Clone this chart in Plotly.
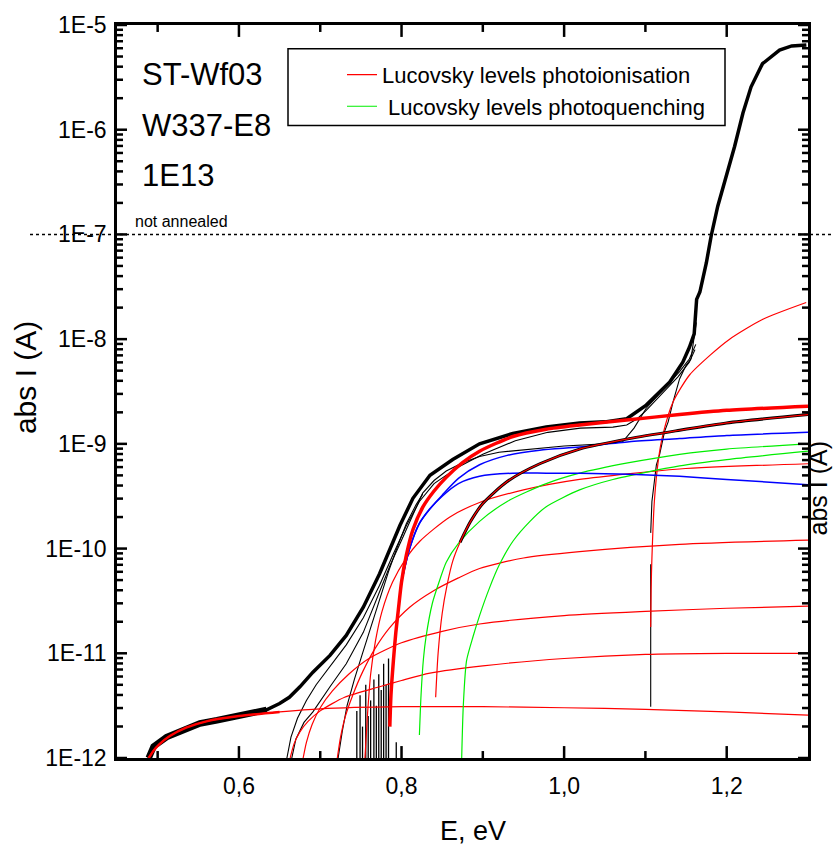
import math
import plotly.graph_objects as go

FONT = "Liberation Sans, Arial, sans-serif"

# ---------------- data (E in eV, current as log10 of A) ----------------
# main measured curve (thick black)
main_E = [0.489, 0.495, 0.511, 0.532, 0.552, 0.573, 0.601, 0.634, 0.650, 0.662, 0.675, 0.691,
          0.712, 0.732, 0.753, 0.773, 0.786, 0.798, 0.814, 0.835, 0.863, 0.896, 0.937, 0.978,
          1.019, 1.050, 1.077, 1.101, 1.130, 1.146, 1.154, 1.160, 1.163, 1.167, 1.175, 1.181,
          1.189, 1.1995, 1.2097, 1.220, 1.230, 1.244, 1.265, 1.280, 1.298]
main_L = [-12.00, -11.89, -11.80, -11.73, -11.67, -11.64, -11.59, -11.54, -11.48, -11.42, -11.32, -11.18,
          -11.02, -10.83, -10.56, -10.24, -10.00, -9.78, -9.52, -9.30, -9.15, -9.00, -8.90, -8.84,
          -8.80, -8.79, -8.76, -8.63, -8.41, -8.22, -8.08, -7.95, -7.62, -7.55, -7.27, -7.01,
          -6.73, -6.44, -6.16, -5.84, -5.59, -5.37, -5.24, -5.20, -5.19]

# thin measured curves
t1_E = [0.659, 0.664, 0.672, 0.683, 0.695, 0.712, 0.732, 0.753, 0.773, 0.790, 0.806, 0.822, 0.840,
        0.870, 0.900, 0.940, 0.980, 1.020, 1.060, 1.077, 1.090, 1.101, 1.120, 1.140, 1.154, 1.161]
t1_L = [-12.00, -11.80, -11.62, -11.45, -11.30, -11.12, -10.92, -10.66, -10.35, -10.05, -9.78, -9.55, -9.38,
        -9.22, -9.10, -8.97, -8.89, -8.85, -8.84, -8.82, -8.76, -8.68, -8.52, -8.36, -8.22, -8.10]
t2_E = [0.665, 0.670, 0.680, 0.691, 0.712, 0.732, 0.753, 0.773, 0.786, 0.800, 0.814, 0.826, 0.840,
        0.855, 0.875, 0.896, 0.920, 0.945, 1.000, 1.050, 1.072, 1.086, 1.101, 1.120, 1.142, 1.154, 1.162]
t2_L = [-12.00, -11.82, -11.66, -11.56, -11.32, -11.10, -10.80, -10.42, -10.16, -9.92, -9.68, -9.47, -9.35,
        -9.26, -9.18, -9.12, -9.08, -9.06, -9.02, -9.00, -8.98, -8.85, -8.66, -8.50, -8.31, -8.19, -8.05]
t3_E = [0.722, 0.727, 0.733, 0.742, 0.752, 0.762, 0.773, 0.784, 0.795, 0.806, 0.818, 0.826]
t3_L = [-12.00, -11.75, -11.50, -11.25, -11.00, -10.75, -10.48, -10.22, -9.98, -9.76, -9.58, -9.48]
v1a_E = [1.1065, 1.1065]
v1a_L = [-11.51, -10.15]
v1b_E = [1.1065, 1.108, 1.1135, 1.1175, 1.1236, 1.128, 1.134, 1.142, 1.150, 1.156, 1.1626]
v1b_L = [-9.85, -9.55, -9.20, -9.10, -8.88, -8.79, -8.60, -8.38, -8.25, -8.19, -7.84]
spike_E = [0.745, 0.749, 0.752, 0.756, 0.759, 0.762, 0.766, 0.769, 0.772, 0.775, 0.778, 0.781, 0.784, 0.7935]
spike_L = [-11.55, -11.40, -11.70, -11.30, -11.60, -11.45, -11.25, -11.50, -11.20, -11.35, -11.10, -11.30, -11.05, -11.85]
spike_base = -12.2

# Lucovsky photoionisation components (red)
rlow_E = [0.489, 0.495, 0.502, 0.515, 0.535, 0.560, 0.600, 0.650, 0.700, 0.800, 0.900, 1.000, 1.100, 1.200, 1.300]
rlow_L = [-12.00, -11.93, -11.87, -11.79, -11.71, -11.65, -11.60, -11.56, -11.53, -11.51, -11.51, -11.52, -11.535, -11.56, -11.59]
r2_E = [0.663, 0.668, 0.675, 0.685, 0.700, 0.730, 0.773, 0.800, 0.835, 0.900, 1.000, 1.100, 1.200, 1.300]
r2_L = [-12.00, -11.86, -11.75, -11.65, -11.55, -11.42, -11.32, -11.26, -11.19, -11.12, -11.05, -11.01, -11.00, -11.00]
r3_E = [0.679, 0.683, 0.690, 0.700, 0.715, 0.735, 0.760, 0.800, 0.850, 0.896, 1.000, 1.100, 1.200, 1.300]
r3_L = [-12.00, -11.85, -11.68, -11.52, -11.36, -11.20, -11.05, -10.90, -10.79, -10.72, -10.64, -10.60, -10.57, -10.55]
r4_E = [0.721, 0.725, 0.731, 0.740, 0.752, 0.767, 0.785, 0.810, 0.840, 0.870, 0.896, 0.950, 1.019, 1.142, 1.300]
r4_L = [-12.00, -11.80, -11.60, -11.40, -11.18, -10.96, -10.76, -10.56, -10.40, -10.28, -10.19, -10.09, -10.03, -9.96, -9.92]
r5_E = [0.755, 0.758, 0.762, 0.768, 0.776, 0.789, 0.805, 0.8225, 0.859, 0.896, 0.950, 1.019, 1.142, 1.300]
r5_L = [-12.00, -11.60, -11.20, -10.88, -10.60, -10.32, -10.10, -9.93, -9.70, -9.56, -9.44, -9.34, -9.24, -9.19]
rb_E = [0.842, 0.845, 0.850, 0.856, 0.863, 0.872, 0.885, 0.900, 0.930, 0.970, 1.019, 1.080, 1.142, 1.200, 1.300]
rb_L = [-11.42, -11.00, -10.62, -10.35, -10.12, -9.94, -9.74, -9.57, -9.36, -9.19, -9.05, -8.95, -8.87, -8.80, -8.72]
rh_E = [1.1065, 1.107, 1.108, 1.111, 1.116, 1.1216, 1.134, 1.1545, 1.180, 1.2036, 1.2445, 1.2978]
rh_L = [-10.75, -10.40, -10.09, -9.55, -9.15, -8.91, -8.60, -8.34, -8.15, -8.00, -7.81, -7.65]
fit_E = [0.7856, 0.787, 0.790, 0.793, 0.796, 0.800, 0.806, 0.814, 0.8265, 0.840, 0.855, 0.875, 0.896,
         0.937, 0.978, 1.019, 1.080, 1.142, 1.200, 1.300]
fit_L = [-11.70, -11.40, -11.07, -10.80, -10.59, -10.32, -10.06, -9.82, -9.60, -9.45, -9.32, -9.18, -9.07,
         -8.93, -8.86, -8.82, -8.77, -8.72, -8.68, -8.64]

# Lucovsky photoquenching components (green)
g1_E = [0.822, 0.824, 0.827, 0.830, 0.838, 0.847, 0.855, 0.870, 0.896, 0.930, 0.978, 1.019, 1.080, 1.142, 1.200, 1.300]
g1_L = [-11.78, -11.40, -11.05, -10.85, -10.52, -10.30, -10.13, -9.95, -9.74, -9.55, -9.38, -9.28, -9.18, -9.10, -9.05, -9.00]
g2_E = [0.874, 0.876, 0.880, 0.888, 0.896, 0.908, 0.920, 0.937, 0.958, 0.978, 1.019, 1.060, 1.142, 1.200, 1.300]
g2_L = [-12.00, -11.50, -11.07, -10.84, -10.64, -10.38, -10.16, -9.93, -9.74, -9.60, -9.44, -9.34, -9.21, -9.15, -9.07]

# blue components
b1_E = [0.800, 0.810, 0.822, 0.835, 0.850, 0.870, 0.896, 0.930, 0.970, 1.019, 1.080, 1.142, 1.200, 1.300]
b1_L = [-10.32, -10.00, -9.76, -9.62, -9.49, -9.33, -9.20, -9.11, -9.06, -9.03, -8.98, -8.95, -8.92, -8.89]
b2_E = [0.800, 0.810, 0.822, 0.835, 0.850, 0.870, 0.896, 0.937, 0.978, 1.019, 1.080, 1.142, 1.200, 1.300]
b2_L = [-10.32, -10.00, -9.76, -9.62, -9.50, -9.38, -9.31, -9.28, -9.28, -9.28, -9.29, -9.31, -9.34, -9.39]

x_ticks = [0.6, 0.8, 1.0, 1.2]
x_ticktext = ["0,6", "0,8", "1,0", "1,2"]
x_minor = [0.5, 0.7, 0.9, 1.1]
y_exps = [-12, -11, -10, -9, -8, -7, -6, -5]
y_ticktext = ["1E-12", "1E-11", "1E-10", "1E-9", "1E-8", "1E-7", "1E-6", "1E-5"]
X_RANGE = [0.45, 1.3]
Y_RANGE = [-12, -5]

# plot-area geometry in pixels
PLOT_L, PLOT_R, PLOT_T, PLOT_B = 117, 808, 21, 758
PW, PH = PLOT_R - PLOT_L, PLOT_B - PLOT_T
E_PER_PX = (X_RANGE[1] - X_RANGE[0]) / PW
DEC_PER_PX = (Y_RANGE[1] - Y_RANGE[0]) / PH


def cur(logs):
    return [10 ** v for v in logs]


fig = go.Figure()


def add(E, L, color, width, shape="spline", name=None, legend=False, group=None):
    fig.add_trace(go.Scatter(
        x=E, y=cur(L), mode="lines",
        line=dict(color=color, width=width, shape=shape, smoothing=0.7 if shape == "spline" else None),
        name=name, showlegend=legend, legendgroup=group, hoverinfo="skip"))


# spikes (noise of a measured curve)
sx, sy = [], []
for e, top in zip(spike_E, spike_L):
    sx += [e, e, None]
    sy += [10 ** spike_base, 10 ** top, None]
fig.add_trace(go.Scatter(x=sx, y=sy, mode="lines", line=dict(color="black", width=1.3),
                         showlegend=False, hoverinfo="skip", connectgaps=False))

add(t1_E, t1_L, "black", 1.1, "linear")
add(t2_E, t2_L, "black", 1.1, "linear")
add(t3_E, t3_L, "black", 1.1, "linear")
add(v1a_E, v1a_L, "black", 1.1, "linear")
add(v1b_E, v1b_L, "black", 1.1, "linear")
add(main_E, main_L, "black", 3.5, "linear")
n_noisy = sum(1 for e in main_E if e <= 0.64)
add(main_E[:n_noisy], main_L[:n_noisy], "black", 6.5, "linear")

RED, GREEN, BLUE = "#ff0000", "#00ee00", "#0000ff"
add(rlow_E, rlow_L, RED, 1.2, group="ion")
add(r2_E, r2_L, RED, 1.2, name="Lucovsky levels photoionisation", legend=True, group="ion")
add(r3_E, r3_L, RED, 1.2, group="ion")
add(r4_E, r4_L, RED, 1.2, group="ion")
add(r5_E, r5_L, RED, 1.2, group="ion")
add(rh_E, rh_L, RED, 1.2, group="ion")
add(g1_E, g1_L, GREEN, 1.2, name="\u00a0Lucovsky levels photoquenching", legend=True, group="q")
add(g2_E, g2_L, GREEN, 1.2, group="q")
add(b1_E, b1_L, BLUE, 1.5)
add(b2_E, b2_L, BLUE, 1.5)
add(rb_E[5:], rb_L[5:], "black", 3.0)
add(rb_E, rb_L, RED, 1.2, group="ion")
add(fit_E, fit_L, RED, 3.5, group="ion")
n_low = sum(1 for e in rlow_E if e <= 0.65)
add(rlow_E[:n_low], rlow_L[:n_low], RED, 2.5, group="ion")

# inward tick marks on all four sides, derived from the tick arrays
tx, ty = [], []
y_minor_logs = [e + math.log10(k) for e in range(Y_RANGE[0], Y_RANGE[1]) for k in range(2, 10)]
for xv, ln in [(v, 12) for v in x_ticks] + [(v, 7) for v in x_minor]:
    d = ln * DEC_PER_PX
    tx += [xv, xv, None, xv, xv, None]
    ty += [10 ** Y_RANGE[0], 10 ** (Y_RANGE[0] + d), None, 10 ** Y_RANGE[1], 10 ** (Y_RANGE[1] - d), None]
for yl, ln in [(e, 10) for e in y_exps] + [(v, 6) for v in y_minor_logs]:
    d = ln * E_PER_PX
    tx += [X_RANGE[0], X_RANGE[0] + d, None, X_RANGE[1] - d, X_RANGE[1], None]
    ty += [10 ** yl, 10 ** yl, None, 10 ** yl, 10 ** yl, None]
fig.add_trace(go.Scatter(x=tx, y=ty, mode="lines", line=dict(color="black", width=2.5),
                         showlegend=False, hoverinfo="skip", connectgaps=False, cliponaxis=False))


def px(xp):
    return (xp - PLOT_L) / PW


def py(yp):
    return (PLOT_B - yp) / PH


annos = [
    dict(text="ST-Wf03", x=px(140), y=py(71), xanchor="left", yanchor="middle", font=dict(size=31)),
    dict(text="W337-E8", x=px(140), y=py(122), xanchor="left", yanchor="middle", font=dict(size=31)),
    dict(text="1E13", x=px(140), y=py(172), xanchor="left", yanchor="middle", font=dict(size=31)),
    dict(text="not annealed", x=px(133), y=py(219), xanchor="left", yanchor="middle", font=dict(size=16)),
    dict(text="E, eV", x=px(473), y=py(831), xanchor="center", yanchor="middle", font=dict(size=27)),
    dict(text="abs I (A)", x=px(25), y=py(376), xanchor="center", yanchor="middle", textangle=-90,
         font=dict(size=30)),
    dict(text="abs I (A)", x=px(818), y=py(487), xanchor="center", yanchor="middle", textangle=-90,
         font=dict(size=25)),
]
for a in annos:
    a.update(xref="paper", yref="paper", showarrow=False)

shapes = [
    dict(type="line", xref="paper", yref="paper", x0=px(30), x1=px(833), y0=5 / 7, y1=5 / 7,
         line=dict(color="black", width=1.5, dash="dot")),
    dict(type="rect", xref="paper", yref="paper", x0=px(288), x1=px(725), y0=py(122), y1=py(45),
         line=dict(color="black", width=1.5), fillcolor="rgba(0,0,0,0)"),
]

fig.update_layout(
    width=833, height=849,
    margin=dict(l=PLOT_L, r=833 - PLOT_R, t=PLOT_T, b=849 - PLOT_B),
    paper_bgcolor="white", plot_bgcolor="white",
    font=dict(family=FONT, size=23, color="black"),
    annotations=annos, shapes=shapes,
    legend=dict(x=px(342), y=py(50), xanchor="left", yanchor="top", borderwidth=0,
                bgcolor="rgba(0,0,0,0)", font=dict(size=22), tracegroupgap=0),
    xaxis=dict(range=X_RANGE, showline=True, linewidth=2.5, linecolor="black", mirror=True,
               ticks="", tickmode="array", tickvals=x_ticks, ticktext=x_ticktext,
               showgrid=False, zeroline=False, ticklabelstandoff=6),
    yaxis=dict(type="log", range=Y_RANGE, showline=True, linewidth=2.5, linecolor="black",
               mirror=True, ticks="", tickmode="array", tickvals=[10 ** e for e in y_exps],
               ticktext=y_ticktext, showgrid=False, zeroline=False, ticklabelstandoff=3),
)

fig.write_html("out.html")
